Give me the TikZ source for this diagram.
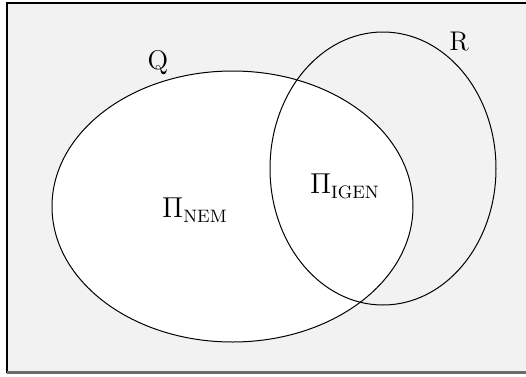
\documentclass[tikz,border=0pt]{standalone}
\usepackage{amsmath, amssymb}
\usepackage{xcolor}
\usepackage{tikz}
\usetikzlibrary{calc, positioning}

\definecolor{nenxam}{gray}{0.949}
\definecolor{vienxam}{gray}{0.42}

\begin{document}
\begin{tikzpicture}[x=0.5pt, y=-0.5pt, taphop/.style={line width=0.5pt},
    nhan/.style={font=\fontsize{13.5pt}{16pt}\selectfont}]
    \useasboundingbox (0,0) rectangle (526,376);
    % 1. Nền và khung
    \fill[nenxam] (7,3) rectangle (526,373);
    \draw[line width=0.8pt] (7,373) -- (7,3) -- (526,3);
    \draw[vienxam, line width=1.3pt] (7,372.5) -- (526,372.5);
    
    % 2. Tập Q và tập R
    \filldraw[taphop, fill=white] (232.5,206.5) ellipse [x radius=180.5, y radius=135.5];
    \draw[taphop] (383,168.5) ellipse [x radius=113, y radius=136.5];
    
    % 3. Nhãn
    \node[nhan] (q) at (158,63) {Q};
    \node[nhan] (r) at (459,42) {R};
    \node[nhan] (nem) at (195,210) {$\Pi_{\mathrm{NEM}}$};
    \node[nhan] (igen) at (345,186) {$\Pi_{\mathrm{IGEN}}$};
    
\end{tikzpicture}
\end{document}
